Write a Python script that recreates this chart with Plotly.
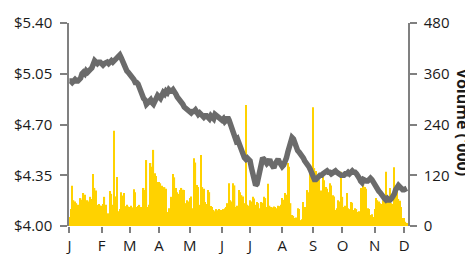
import plotly.graph_objects as go
import pandas as pd

# ---- data (trading days, Jan .. early Dec) ----
month_letters = ["J", "F", "M", "A", "M", "J", "J", "A", "S", "O", "N", "D"]

price_jan = [5.00, 5.00, 4.99, 5.01, 5.01, 5.00, 5.00, 5.01, 5.02, 5.05, 5.06, 5.05, 5.07, 5.06, 5.08, 5.08, 5.09, 5.11, 5.14, 5.13, 5.12, 5.13, 5.13]
price_feb = [5.12, 5.11, 5.12, 5.13, 5.13, 5.12, 5.14, 5.14, 5.13, 5.14, 5.15, 5.16, 5.17, 5.18, 5.16, 5.13, 5.10, 5.08, 5.07, 5.06]
price_mar = [5.05, 5.04, 5.02, 5.01, 4.99, 4.99, 4.98, 4.95, 4.92, 4.90, 4.88, 4.87, 4.84, 4.85, 4.86, 4.87, 4.85, 4.84, 4.86, 4.88, 4.90]
price_apr = [4.89, 4.88, 4.90, 4.92, 4.91, 4.93, 4.92, 4.94, 4.93, 4.93, 4.94, 4.93, 4.91, 4.89, 4.88, 4.86, 4.85, 4.84, 4.82, 4.81, 4.80, 4.79]
price_may = [4.78, 4.78, 4.79, 4.79, 4.80, 4.79, 4.77, 4.78, 4.77, 4.76, 4.75, 4.76, 4.76, 4.75, 4.74, 4.76, 4.75, 4.74, 4.77, 4.76, 4.75, 4.74, 4.74]
price_jun = [4.73, 4.74, 4.72, 4.73, 4.75, 4.73, 4.70, 4.67, 4.65, 4.62, 4.59, 4.60, 4.57, 4.56, 4.52, 4.50, 4.47, 4.46, 4.47, 4.46]
price_jul = [4.45, 4.40, 4.37, 4.32, 4.28, 4.29, 4.34, 4.40, 4.47, 4.47, 4.46, 4.43, 4.43, 4.44, 4.46, 4.43, 4.41, 4.40, 4.43, 4.45, 4.46, 4.44, 4.41]
price_aug = [4.41, 4.42, 4.44, 4.47, 4.51, 4.55, 4.59, 4.61, 4.60, 4.56, 4.54, 4.52, 4.51, 4.50, 4.49, 4.47, 4.45, 4.44, 4.43, 4.41, 4.39, 4.37]
price_sep = [4.33, 4.32, 4.32, 4.34, 4.34, 4.35, 4.35, 4.36, 4.37, 4.37, 4.38, 4.37, 4.37, 4.36, 4.37, 4.38, 4.38, 4.37, 4.36, 4.36, 4.35]
price_oct = [4.35, 4.35, 4.36, 4.36, 4.37, 4.36, 4.37, 4.38, 4.37, 4.37, 4.36, 4.35, 4.33, 4.31, 4.30, 4.32, 4.31, 4.31, 4.31, 4.33, 4.33, 4.32, 4.30]
price_nov = [4.28, 4.27, 4.25, 4.24, 4.23, 4.21, 4.20, 4.19, 4.18, 4.19, 4.18, 4.18, 4.19, 4.20, 4.22, 4.25, 4.28, 4.28, 4.27, 4.25, 4.25]
price_dec = [4.25, 4.26, 4.26]

vol_jan = [21, 40, 95, 61, 58, 54, 50, 45, 66, 62, 78, 74, 57, 61, 58, 69, 64, 123, 90, 84, 50, 52, 48]
vol_feb = [48, 52, 69, 50, 26, 30, 83, 76, 50, 225, 70, 116, 35, 40, 80, 72, 78, 47, 50, 46]
vol_mar = [45, 48, 44, 87, 80, 45, 47, 50, 45, 42, 90, 85, 156, 45, 50, 149, 140, 180, 125, 118, 104]
vol_apr = [104, 101, 95, 90, 92, 88, 33, 42, 40, 69, 123, 115, 90, 80, 76, 85, 90, 86, 85, 54, 61, 58]
vol_may = [66, 70, 42, 160, 150, 97, 92, 50, 168, 92, 88, 57, 52, 85, 80, 47, 45, 38, 35, 40, 37, 40, 38]
vol_jun = [38, 40, 42, 45, 54, 101, 61, 58, 101, 96, 45, 48, 85, 80, 73, 70, 54, 286, 50, 48]
vol_jul = [61, 58, 69, 65, 50, 57, 54, 42, 57, 55, 69, 66, 45, 100, 48, 45, 44, 46, 45, 42, 48, 47, 50]
vol_aug = [66, 62, 78, 74, 149, 140, 54, 26, 24, 19, 20, 42, 40, 14, 16, 57, 45, 44, 85, 80, 125, 118]
vol_sep = [281, 137, 130, 116, 110, 80, 84, 116, 108, 92, 88, 80, 101, 96, 73, 70, 38, 42, 61, 58, 128]
vol_oct = [69, 45, 48, 78, 42, 40, 57, 55, 38, 42, 40, 33, 35, 90, 86, 101, 92, 88, 42, 40, 26, 28, 21]
vol_nov = [40, 66, 61, 58, 54, 52, 61, 58, 128, 69, 66, 90, 54, 52, 139, 92, 88, 64, 60, 45, 19]
vol_dec = [19, 10, 7]

price_ticks = [4.00, 4.35, 4.70, 5.05, 5.40]
volume_ticks = [0, 120, 240, 360, 480]

# ---- build series ----
price_months = [price_jan, price_feb, price_mar, price_apr, price_may, price_jun,
                price_jul, price_aug, price_sep, price_oct, price_nov, price_dec]
vol_months = [vol_jan, vol_feb, vol_mar, vol_apr, vol_may, vol_jun,
              vol_jul, vol_aug, vol_sep, vol_oct, vol_nov, vol_dec]
price = [p for m in price_months for p in m]
volume = [v for m in vol_months for v in m]
dates = pd.bdate_range("2019-01-01", periods=len(price)).strftime("%Y-%m-%d").tolist()

# first trading day of each month for tick placement
month_first = []
seen = set()
for d in dates:
    ym = d[:7]
    if ym not in seen:
        seen.add(ym)
        month_first.append(d)

AXIS_GRAY = "#808080"
TEXT = "#1a1a1a"
FONT = "Open Sans"
FS = 15

fig = go.Figure()
fig.add_trace(go.Bar(x=dates, y=volume, marker=dict(color="#FFD200", line=dict(width=0)),
                     yaxis="y", showlegend=False))
fig.add_trace(go.Scatter(x=dates, y=price, mode="lines", yaxis="y2",
                         line=dict(color="#6b6b6b", width=5.5), showlegend=False))

n = len(dates)
# the page body adds an 8px offset, so the figure is 8px smaller and margins shifted
fig.update_layout(
    width=465, height=246,
    margin=dict(l=61, r=65, t=15, b=28),
    paper_bgcolor="white", plot_bgcolor="white",
    bargap=0.05,
    font=dict(family=FONT, size=FS, color=TEXT),
    xaxis=dict(type="category", range=[-0.3, n - 0.2], automargin=False,
               tickmode="array", tickvals=month_first, ticktext=month_letters,
               ticks="outside", ticklen=6, tickcolor=AXIS_GRAY, tickwidth=1.5,
               ticklabelstandoff=0,
               showline=False, showgrid=False, zeroline=False,
               tickfont=dict(family=FONT, size=FS, color=TEXT)),
    yaxis=dict(side="right", range=[0, 480], tickvals=volume_ticks, automargin=False,
               ticktext=[str(v) for v in volume_ticks],
               ticks="outside", ticklen=7, tickcolor=AXIS_GRAY, tickwidth=1.5,
               ticklabelstandoff=4,
               showline=True, linecolor=AXIS_GRAY, linewidth=1.5,
               showgrid=False, zeroline=False,
               tickfont=dict(family=FONT, size=FS, color=TEXT)),
    yaxis2=dict(overlaying="y", side="left", range=[4.0, 5.4], tickvals=price_ticks,
                automargin=False,
                ticktext=["$%.2f" % p for p in price_ticks],
                ticks="outside", ticklen=7, tickcolor=AXIS_GRAY, tickwidth=1.5,
                ticklabelstandoff=5,
                showline=True, linecolor=AXIS_GRAY, linewidth=1.5,
                showgrid=False, zeroline=False,
                tickfont=dict(family=FONT, size=FS, color=TEXT)),
    annotations=[dict(text="<b>Volume ('000)</b>", xref="paper", yref="paper",
                      x=1.162, y=0.51, xanchor="center", yanchor="middle",
                      textangle=90, showarrow=False,
                      font=dict(family=FONT, size=16, color=TEXT))],
)

fig.write_html("out.html")
